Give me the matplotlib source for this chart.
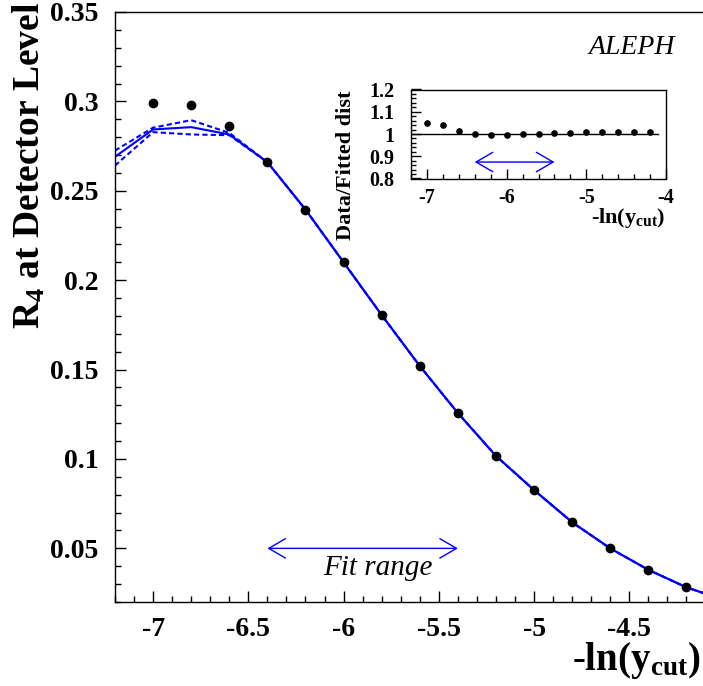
import matplotlib
matplotlib.use("Agg")
import matplotlib.pyplot as plt
from matplotlib.ticker import MultipleLocator, FormatStrFormatter

# ---- data ----
ycut = [-7.0, -6.8, -6.6, -6.4, -6.2, -6.0, -5.8, -5.6, -5.4, -5.2,
        -5.0, -4.8, -4.6, -4.4, -4.2]
r4_data = [0.299, 0.298, 0.286, 0.266, 0.2395, 0.210, 0.1805, 0.152,
           0.1257, 0.1017, 0.0826, 0.0646, 0.0500, 0.0381, 0.0282]

fit_x = [-7.2, -7.0, -6.8, -6.6, -6.4, -6.2, -6.0, -5.8, -5.6, -5.4,
         -5.2, -5.0, -4.8, -4.6, -4.4, -4.2, -4.1]
fit_mid = [0.2690, 0.2843, 0.2856, 0.2815, 0.2660, 0.2395, 0.2100, 0.1805,
           0.1520, 0.1257, 0.1017, 0.0826, 0.0646, 0.0500, 0.0380, 0.0282,
           0.0246]
fit_up = [0.2725, 0.2853, 0.2895, 0.2824] + fit_mid[4:]
fit_lo = [0.2641, 0.2828, 0.2815, 0.2811] + fit_mid[4:]

ratio = [1.051, 1.041, 1.015, 1.001, 0.997, 0.994, 0.998, 0.998, 1.004,
         1.004, 1.007, 1.007, 1.007, 1.011, 1.011]
ratio_ref = 1.0
ref_span = (-7.2, -4.1)

fit_range = (-6.4, -5.4)
arrow_y_main = 0.05
arrow_y_inset = 0.874

plt.rcParams['font.family'] = ['Liberation Serif', 'DejaVu Serif']
plt.rcParams['font.weight'] = 'bold'
plt.rcParams['axes.unicode_minus'] = False
plt.rcParams['mathtext.fontset'] = 'custom'
plt.rcParams['mathtext.rm'] = 'Liberation Serif:bold'
plt.rcParams['mathtext.it'] = 'Liberation Serif:bold:italic'
plt.rcParams['mathtext.bf'] = 'Liberation Serif:bold'

blue = '#0000ff'

fig = plt.figure(figsize=(7.03, 6.86), dpi=100)
ax = fig.add_axes([115 / 703, 84 / 686, 590.5 / 703, 590 / 686])

ax.plot(fit_x, fit_up, color=blue, lw=1.5, dashes=(2.5, 1.5))
ax.plot(fit_x, fit_lo, color=blue, lw=1.5, dashes=(2.5, 1.5))
ax.plot(fit_x, fit_mid, color=blue, lw=1.5)
ax.plot(ycut, r4_data, 'o', color='black', ms=6, zorder=5)

ax.set_xlim(-7.2, -4.1)
ax.set_ylim(0.02, 0.35)
ax.xaxis.set_major_locator(MultipleLocator(0.5))
ax.xaxis.set_minor_locator(MultipleLocator(0.1))
ax.yaxis.set_major_locator(MultipleLocator(0.05))
ax.yaxis.set_minor_locator(MultipleLocator(0.01))
ax.xaxis.set_major_formatter(FormatStrFormatter('%g'))
ax.yaxis.set_major_formatter(FormatStrFormatter('%g'))
ax.tick_params(which='both', direction='in', width=1, top=False, right=False)
ax.tick_params(axis='x', which='major', length=8.2, pad=11, labelsize=20)
ax.tick_params(axis='x', which='minor', length=4.1)
ax.tick_params(axis='y', which='major', length=8.2, pad=12, labelsize=20)
ax.tick_params(axis='y', which='minor', length=4.1)
for s in ax.spines.values():
    s.set_linewidth(1.0)

ax.annotate('', xy=(fit_range[1], arrow_y_main), xytext=(fit_range[0], arrow_y_main),
            arrowprops=dict(arrowstyle='<->,head_length=0.6,head_width=0.35',
                            mutation_scale=20, lw=1, color=blue,
                            shrinkA=0, shrinkB=0))
ax.text(sum(fit_range) / 2 + 0.08, 0.0349, 'Fit range', style='italic',
        weight='normal', fontsize=21, ha='center', va='baseline')

fig.text(632 / 703, 1 - 48 / 686, 'ALEPH', style='italic', weight='normal',
         fontsize=20, ha='center', va='center')
fig.text(11 / 703, 1 - 2 / 686, r'R$_\mathrm{4}$ at Detector Level',
         fontsize=27, rotation=90, ha='left', va='top')
fig.text(701 / 703, 1 - 670 / 686, r'-ln(y$_\mathrm{cut}$)',
         fontsize=28, ha='right', va='baseline')

# ---- inset: ratio data / fit ----
axi = fig.add_axes([411 / 703, 1 - 178.5 / 686, 255 / 703, 89 / 686])
axi.plot(ref_span, [ratio_ref, ratio_ref], color='black', lw=1)
axi.plot(ycut, ratio, 'o', color='black', ms=3.8, zorder=5)
axi.set_xlim(-7.2, -4.0)
axi.set_ylim(0.8, 1.2)
axi.xaxis.set_major_locator(MultipleLocator(1))
axi.xaxis.set_minor_locator(MultipleLocator(0.2))
axi.yaxis.set_major_locator(MultipleLocator(0.1))
axi.yaxis.set_minor_locator(MultipleLocator(0.02))
axi.xaxis.set_major_formatter(FormatStrFormatter('%g'))
axi.yaxis.set_major_formatter(FormatStrFormatter('%g'))
axi.tick_params(which='both', direction='in', width=1, top=False, right=False)
axi.tick_params(axis='x', which='major', length=7, pad=7, labelsize=14.5)
axi.tick_params(axis='x', which='minor', length=3.5)
axi.tick_params(axis='y', which='major', length=7, pad=12, labelsize=14.5)
axi.tick_params(axis='y', which='minor', length=3.5)
for s in axi.spines.values():
    s.set_linewidth(1.0)

axi.annotate('', xy=(fit_range[1], arrow_y_inset), xytext=(fit_range[0], arrow_y_inset),
             arrowprops=dict(arrowstyle='<->,head_length=0.6,head_width=0.35',
                             mutation_scale=20, lw=1, color=blue,
                             shrinkA=0, shrinkB=0))

fig.text(336 / 703, 1 - 90 / 686, 'Data/Fitted dist', fontsize=16,
         rotation=90, ha='left', va='top')
fig.text(665 / 703, 1 - 223 / 686, r'-ln(y$_\mathrm{cut}$)', fontsize=16,
         ha='right', va='baseline')

fig.savefig('out.png', dpi=100)
